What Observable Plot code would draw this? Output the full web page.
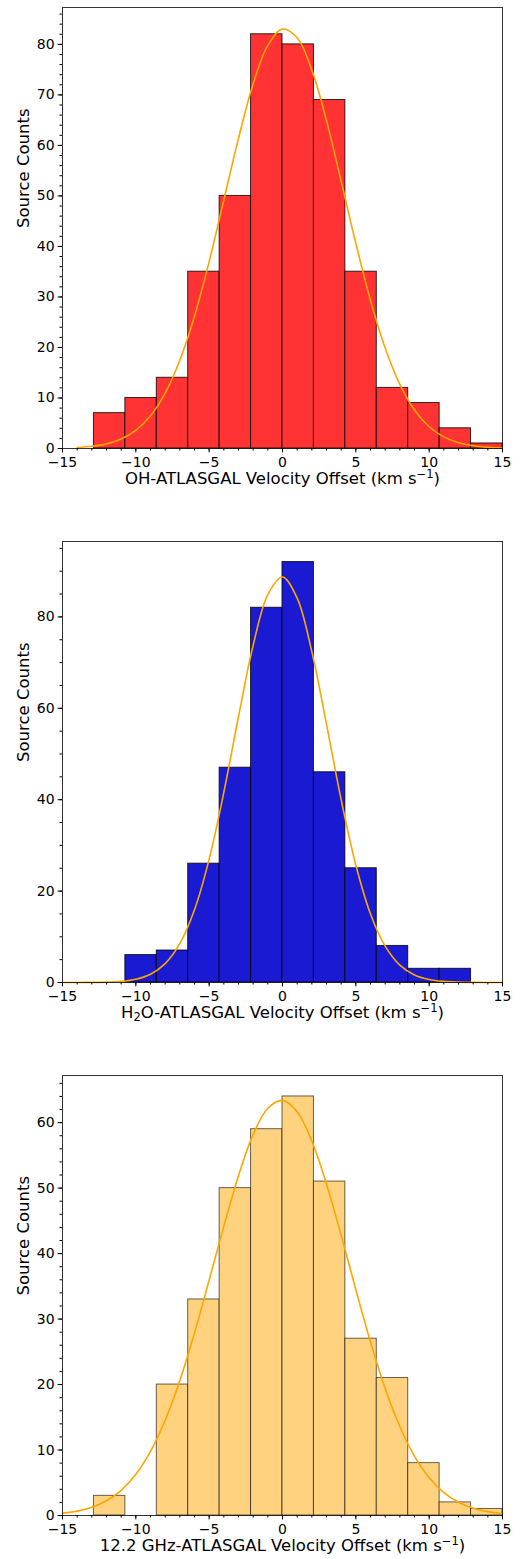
<!DOCTYPE html>
<html>
<head>
<meta charset="utf-8">
<script src="https://cdn.jsdelivr.net/npm/d3@7"></script>
<script src="https://cdn.jsdelivr.net/npm/@observablehq/plot@0.6"></script>
<style>
  html, body { margin: 0; padding: 0; background: #fff; }
  svg { display: block; }
</style>
</head>
<body>
<div id="chart"></div>
<script>
// Histogram bin edges (km/s)
const binEdges = [-15, -12.857, -10.714, -8.571, -6.429, -4.286, -2.143, 0, 2.143, 4.286, 6.429, 8.571, 10.714, 12.857, 15];

// Counts per bin
const ohCounts  = [0, 7, 10, 14, 35, 50, 82, 80, 69, 35, 12, 9, 4, 1];
const h2oCounts = [0, 0, 6, 7, 26, 47, 82, 92, 46, 25, 8, 3, 3, 0];
const ghzCounts = [0, 3, 0, 20, 33, 50, 59, 64, 51, 27, 21, 8, 2, 1];

// Gaussian fit curves
const ohFitX = [-14, -13, -12, -11, -10, -9, -8, -7, -6, -5, -4, -3, -2, -1, 0, 1, 2, 3, 4, 5, 6, 7, 8, 9, 10, 11, 12, 13, 14, 15];
const ohFitY = [0.19, 0.43, 0.92, 1.88, 3.59, 6.47, 10.97, 17.48, 26.2, 37.0, 49.2, 61.4, 72.2, 79.8, 83.04, 81.3, 74.9, 64.9, 52.9, 40.6, 29.3, 19.9, 12.7, 7.63, 4.31, 2.30, 1.15, 0.54, 0.24, 0.10];
const fitX = [-15, -14, -13, -12, -11, -10, -9, -8, -7, -6, -5, -4, -3, -2, -1, 0, 1, 2, 3, 4, 5, 6, 7, 8, 9, 10, 11, 12, 13, 14, 15];
const h2oFitY = [0, 0.01, 0.03, 0.09, 0.26, 0.73, 1.82, 4.13, 8.50, 15.9, 27.0, 41.6, 58.2, 73.8, 84.9, 88.74, 84.1, 72.4, 56.5, 40.0, 25.7, 15.0, 7.95, 3.82, 1.66, 0.66, 0.24, 0.08, 0.02, 0.01, 0];
const ghzFitY = [0.34, 0.67, 1.26, 2.25, 3.85, 6.29, 9.80, 14.55, 20.6, 27.9, 35.96, 44.2, 51.9, 58.2, 62.2, 63.4, 61.65, 57.2, 50.6, 42.8, 34.5, 26.5, 19.4, 13.6, 9.07, 5.78, 3.51, 2.03, 1.12, 0.59, 0.30];

// Tick values
const xMajorTicks = [-15, -10, -5, 0, 5, 10, 15];
const ohYTicks  = [0, 10, 20, 30, 40, 50, 60, 70, 80];
const h2oYTicks = [0, 20, 40, 60, 80];
const ghzYTicks = [0, 10, 20, 30, 40, 50, 60];

// Labels (prefix, main part)
const yLabel = "Source Counts";
const ohXLabel  = ["OH", "-ATLASGAL Velocity Offset (km s"];
const h2oXLabel = ["H2O", "-ATLASGAL Velocity Offset (km s"];
const ghzXLabel = ["12.2 GHz", "-ATLASGAL Velocity Offset (km s"];

const fmt = d => d < 0 ? "\u2212" + Math.abs(d) : String(d);
const TICK_FS = 14;
const LABEL_FS = 16.5;

function panel({counts, fx, fy, yMax, yTicks, yMinorStep, xLabel, fill, edgeOpacity, height, marginBottom}) {
  const bars = counts.map((c, i) => ({x1: binEdges[i], x2: binEdges[i + 1], y: c})).filter(d => d.y > 0);
  const xMinor = d3.range(-15, 15.001, 1);
  const yMinor = d3.range(0, yMax, yMinorStep);
  const plainLabel = xLabel.join("") + "\u207B\u00B9)";
  const svg = Plot.plot({
    width: 522,
    height,
    marginLeft: 62,
    marginRight: 20,
    marginTop: 7,
    marginBottom,
    style: {fontFamily: "'DejaVu Sans', sans-serif", fontSize: TICK_FS + "px", color: "#000", background: "#fff"},
    x: {domain: [-15, 15]},
    y: {domain: [0, yMax]},
    marks: [
      Plot.rectY(bars, {x1: "x1", x2: "x2", y: "y", fill, stroke: "#000", strokeOpacity: edgeOpacity, strokeWidth: 1}),
      Plot.line(fy, {x: fx, y: fy, stroke: "#ffa500", strokeWidth: 1.6, curve: "catmull-rom"}),
      Plot.frame({stroke: "#000", strokeOpacity: 0.8, strokeWidth: 1}),
      Plot.axisX({ticks: xMinor, tickSize: 2.5, tickFormat: () => "", label: null}),
      Plot.axisX({ticks: xMajorTicks, tickSize: 4.4, tickPadding: 4.5, tickFormat: fmt, label: null}),
      Plot.axisY({ticks: yMinor, tickSize: 2.5, tickFormat: () => "", label: null}),
      Plot.axisY({ticks: yTicks, tickSize: 4.4, tickPadding: 3.5, tickFormat: fmt, label: null}),
      Plot.text([yLabel], {text: d => d, frameAnchor: "left", rotate: -90, dx: -39, fontSize: LABEL_FS, fill: "#000"}),
      Plot.text([plainLabel], {text: d => d, frameAnchor: "bottom", dy: 35, fontSize: LABEL_FS, fill: "#000"})
    ]
  });
  // Render sub/superscripts as real tspans (mathtext-like)
  d3.select(svg).selectAll("text").each(function() {
    if (this.textContent === plainLabel) {
      const t = d3.select(this);
      t.text(null);
      const prefix = xLabel[0];
      if (prefix === "H2O") {
        t.append("tspan").text("H");
        t.append("tspan").attr("dy", "0.3em").attr("font-size", "70%").text("2");
        t.append("tspan").attr("dy", "-0.21em").text("O" + xLabel[1]);
      } else {
        t.append("tspan").text(prefix + xLabel[1]);
      }
      t.append("tspan").attr("dy", "-0.45em").attr("font-size", "70%").text("\u22121");
      t.append("tspan").attr("dy", "0.315em").text(")");
    }
  });
  return svg;
}

const root = document.getElementById("chart");
root.append(panel({counts: ohCounts, fx: ohFitX, fy: ohFitY, yMax: 87.3, yTicks: ohYTicks, yMinorStep: 2, xLabel: ohXLabel, fill: "#ff3333", edgeOpacity: 0.8, height: 534, marginBottom: 86}));
root.append(panel({counts: h2oCounts, fx: fitX, fy: h2oFitY, yMax: 96.5, yTicks: h2oYTicks, yMinorStep: 5, xLabel: h2oXLabel, fill: "#1a1ad2", edgeOpacity: 0.8, height: 534, marginBottom: 86}));
root.append(panel({counts: ghzCounts, fx: fitX, fy: ghzFitY, yMax: 67.2, yTicks: ghzYTicks, yMinorStep: 2, xLabel: ghzXLabel, fill: "#ffd27f", edgeOpacity: 0.6, height: 491, marginBottom: 44}));
</script>
</body>
</html>
